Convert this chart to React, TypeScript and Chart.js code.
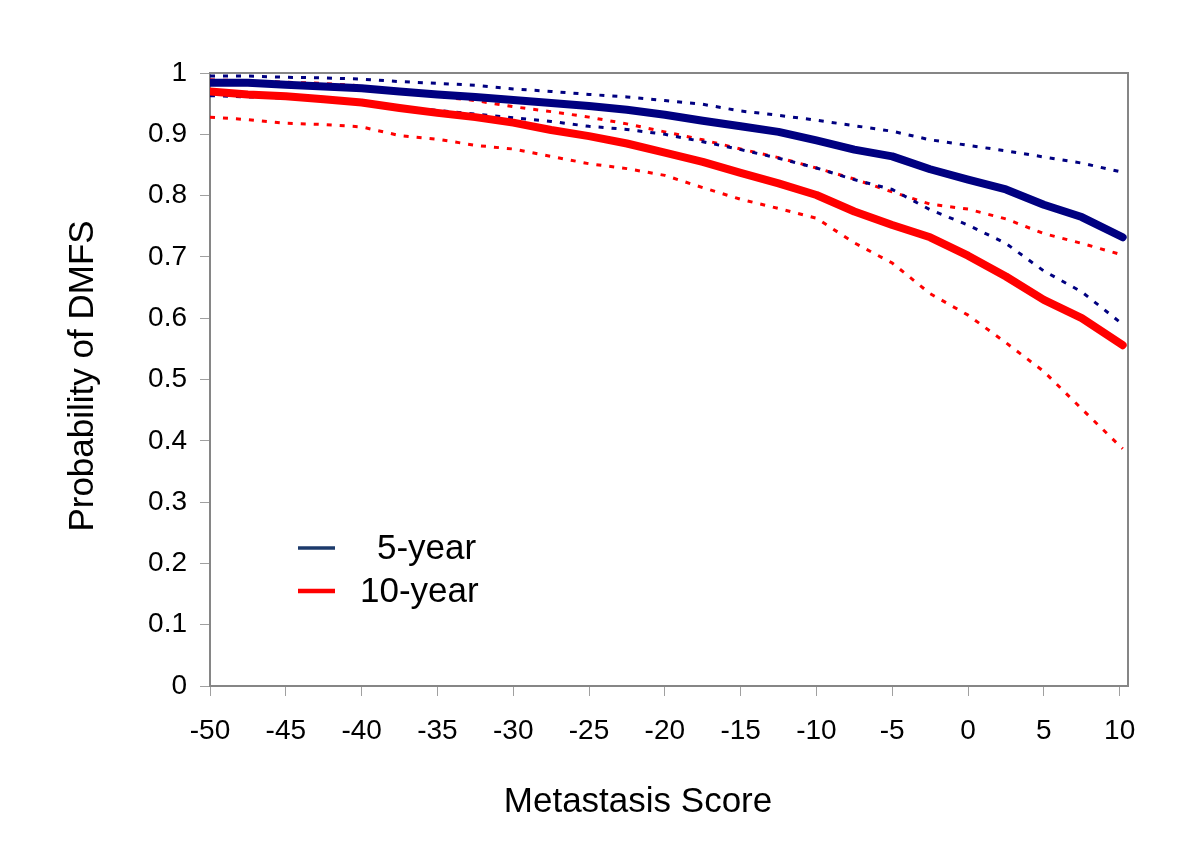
import React, { useEffect, useRef } from "react";
import { Chart, registerables } from "chart.js";

Chart.register(...registerables);

const scores = [-50, -47.5, -45, -42.5, -40, -37.5, -35, -32.5, -30, -27.5, -25, -22.5, -20, -17.5, -15, -12.5, -10, -7.5, -5, -2.5, 0, 2.5, 5, 7.5, 10.2];

const fiveYear = [0.984, 0.984, 0.981, 0.978, 0.975, 0.970, 0.965, 0.961, 0.956, 0.951, 0.946, 0.940, 0.932, 0.922, 0.913, 0.904, 0.890, 0.875, 0.864, 0.843, 0.826, 0.810, 0.785, 0.765, 0.732];
const fiveYearUpper = [0.995, 0.995, 0.993, 0.992, 0.990, 0.986, 0.983, 0.980, 0.974, 0.970, 0.965, 0.961, 0.955, 0.949, 0.938, 0.931, 0.923, 0.914, 0.905, 0.891, 0.882, 0.873, 0.863, 0.853, 0.838];
const fiveYearLower = [0.963, 0.961, 0.959, 0.955, 0.950, 0.945, 0.939, 0.933, 0.927, 0.921, 0.913, 0.908, 0.900, 0.888, 0.875, 0.861, 0.845, 0.826, 0.810, 0.777, 0.752, 0.722, 0.677, 0.643, 0.590];

const tenYear = [0.970, 0.965, 0.962, 0.957, 0.952, 0.943, 0.935, 0.928, 0.919, 0.907, 0.897, 0.885, 0.870, 0.855, 0.837, 0.820, 0.801, 0.774, 0.752, 0.732, 0.702, 0.668, 0.630, 0.600, 0.556];
const tenYearUpper = [0.989, 0.987, 0.985, 0.983, 0.979, 0.969, 0.962, 0.955, 0.945, 0.937, 0.928, 0.917, 0.904, 0.891, 0.876, 0.862, 0.845, 0.827, 0.806, 0.786, 0.778, 0.762, 0.738, 0.722, 0.703];
const tenYearLower = [0.928, 0.924, 0.918, 0.916, 0.912, 0.898, 0.892, 0.882, 0.876, 0.864, 0.852, 0.844, 0.833, 0.813, 0.794, 0.779, 0.763, 0.723, 0.690, 0.640, 0.605, 0.560, 0.513, 0.452, 0.387];

const xTicks = [-50, -45, -40, -35, -30, -25, -20, -15, -10, -5, 0, 5, 10];
const xTickLabels = ["-50", "-45", "-40", "-35", "-30", "-25", "-20", "-15", "-10", "-5", "0", "5", "10"];
const yTicks = [0, 0.1, 0.2, 0.3, 0.4, 0.5, 0.6, 0.7, 0.8, 0.9, 1];
const yTickLabels = ["0", "0.1", "0.2", "0.3", "0.4", "0.5", "0.6", "0.7", "0.8", "0.9", "1"];

const legendLabels = ["5-year", "10-year"];
const xTitle = "Metastasis Score";
const yTitle = "Probability of DMFS";

const NAVY = "#000080";
const RED = "#ff0000";
const FONT = "'Liberation Sans', Arial, Helvetica, sans-serif";

const toPoints = (ys: number[]) => ys.map((y, i) => ({ x: scores[i], y }));

const overlayPlugin = {
  id: "overlay",
  beforeDatasetsDraw(chart: any) {
    const { ctx, chartArea } = chart;
    ctx.save();
    ctx.strokeStyle = "#868686";
    ctx.lineWidth = 2;
    ctx.strokeRect(chartArea.left, chartArea.top, chartArea.right - chartArea.left, chartArea.bottom - chartArea.top);
    ctx.restore();
  },
  afterDraw(chart: any) {
    const { ctx } = chart;
    ctx.save();
    ctx.fillStyle = "#000";
    ctx.font = `35px ${FONT}`;
    ctx.textAlign = "center";
    ctx.textBaseline = "alphabetic";
    ctx.fillText(xTitle, 638, 812);
    ctx.save();
    ctx.translate(93, 376);
    ctx.rotate(-Math.PI / 2);
    ctx.fillText(yTitle, 0, 0);
    ctx.restore();
    const items = [
      { color: "#1c3a6b", width: 3.5, y: 548, text: legendLabels[0], tx: 377, by: 559 },
      { color: RED, width: 4.5, y: 591, text: legendLabels[1], tx: 360, by: 602 },
    ];
    ctx.textAlign = "left";
    for (const it of items) {
      ctx.strokeStyle = it.color;
      ctx.lineWidth = it.width;
      ctx.beginPath();
      ctx.moveTo(298, it.y);
      ctx.lineTo(335, it.y);
      ctx.stroke();
      ctx.fillText(it.text, it.tx, it.by);
    }
    ctx.restore();
  },
};

export default function App() {
  const ref = useRef<HTMLCanvasElement | null>(null);

  useEffect(() => {
    if (!ref.current) return;
    const dashed = { borderWidth: 3, borderDash: [5, 8], pointRadius: 0, tension: 0, order: 2, borderCapStyle: "butt" as const };
    const solid = { borderWidth: 8, pointRadius: 0, tension: 0, order: 1, borderCapStyle: "round" as const, borderJoinStyle: "round" as const };
    const chart = new Chart(ref.current, {
      type: "line",
      data: {
        datasets: [
          { label: "5-year", data: toPoints(fiveYear), borderColor: NAVY, ...solid },
          { label: "10-year", data: toPoints(tenYear), borderColor: RED, ...solid },
          { label: "5-year upper", data: toPoints(fiveYearUpper), borderColor: NAVY, ...dashed },
          { label: "5-year lower", data: toPoints(fiveYearLower), borderColor: NAVY, ...dashed },
          { label: "10-year upper", data: toPoints(tenYearUpper), borderColor: RED, ...dashed },
          { label: "10-year lower", data: toPoints(tenYearLower), borderColor: RED, ...dashed },
        ],
      },
      options: {
        responsive: false,
        animation: false,
        layout: { padding: { left: 0, top: 73, right: 72, bottom: 0 } },
        plugins: { legend: { display: false }, tooltip: { enabled: false } },
        scales: {
          x: {
            type: "linear",
            min: -50,
            max: 10.55,
            afterBuildTicks: (scale: any) => {
              scale.ticks = xTicks.map((v) => ({ value: v }));
            },
            afterFit: (scale: any) => {
              scale.height = 166;
            },
            ticks: {
              autoSkip: false,
              maxRotation: 0,
              padding: 18,
              color: "#000",
              font: { family: FONT, size: 28 },
              callback: (v: any) => xTickLabels[xTicks.indexOf(Number(v))] ?? "",
            },
            grid: { drawOnChartArea: false, drawTicks: true, tickLength: 10, color: "#a0a0a0", lineWidth: 1 },
            border: { display: false },
          },
          y: {
            min: 0,
            max: 1,
            afterBuildTicks: (scale: any) => {
              scale.ticks = yTicks.map((v) => ({ value: v }));
            },
            afterFit: (scale: any) => {
              scale.width = 210;
            },
            ticks: {
              padding: 13,
              color: "#000",
              font: { family: FONT, size: 28 },
              callback: (v: any) => {
                const i = yTicks.findIndex((t) => Math.abs(t - Number(v)) < 1e-6);
                return i >= 0 ? yTickLabels[i] : "";
              },
            },
            grid: { drawOnChartArea: false, drawTicks: true, tickLength: 10, color: "#a0a0a0", lineWidth: 1 },
            border: { display: false },
          },
        },
      },
      plugins: [overlayPlugin],
    });
    return () => chart.destroy();
  }, []);

  return (
    <div style={{ position: "absolute", left: 0, top: 0, width: 1200, height: 852, background: "#fff" }}>
      <canvas ref={ref} width={1200} height={852} />
    </div>
  );
}
